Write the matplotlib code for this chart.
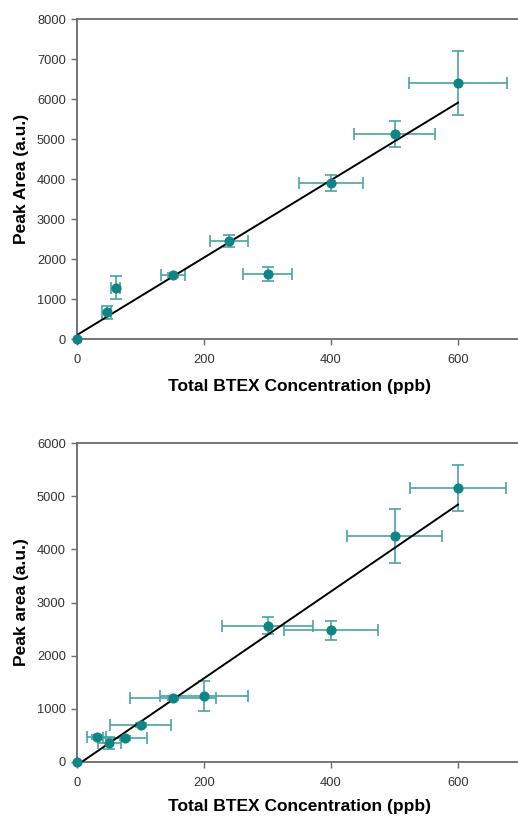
import matplotlib
matplotlib.use("Agg")
import matplotlib.pyplot as plt
import numpy as np

plt.rcParams['font.family'] = ['Liberation Sans', 'DejaVu Sans']

# Top panel data
top_x = [0, 47, 61, 151, 240, 300, 400, 500, 600]
top_y = [0, 667, 1285, 1605, 2450, 1620, 3900, 5130, 6400]
top_xerr = [0, 7, 7, 19, 30, 38, 50, 63, 77]
top_yerr = [0, 165, 290, 50, 160, 180, 210, 330, 800]
top_fit_slope = 9.68
top_fit_intercept = 100
top_ylabel = "Peak Area (a.u.)"
top_yticks = [0, 1000, 2000, 3000, 4000, 5000, 6000, 7000, 8000]

# Bottom panel data
bot_x = [0, 31, 51, 76, 100, 151, 200, 300, 400, 500, 600]
bot_y = [0, 465, 360, 450, 700, 1210, 1240, 2560, 2480, 4250, 5150]
bot_xerr = [0, 15, 18, 35, 48, 68, 70, 71, 74, 75, 75]
bot_yerr = [0, 40, 110, 40, 40, 40, 285, 160, 180, 500, 430]
bot_fit_slope = 8.17
bot_fit_intercept = -60
bot_ylabel = "Peak area (a.u.)"
bot_yticks = [0, 1000, 2000, 3000, 4000, 5000, 6000]

xticks = [0, 200, 400, 600]
xlabel = "Total BTEX Concentration (ppb)"
fit_range = [0, 600]

W, H = 518, 816
fig = plt.figure(figsize=(W / 100, H / 100), dpi=100)

marker_color = "#0f8585"
err_color = "#4aa3a3"
spine_color = "#6a6a6a"


def panel(rect, x, y, xerr, yerr, slope, intercept, ylabel, yticks, xlabelpad):
    ax = fig.add_axes(rect)
    ax.errorbar(x, y, xerr=xerr, yerr=yerr, fmt='none', ecolor=err_color,
                elinewidth=1.2, capsize=4, capthick=1.2, zorder=2)
    fx = np.array(fit_range, dtype=float)
    ax.plot(fx, slope * fx + intercept, color='black', lw=1.4, zorder=3)
    ax.plot(x, y, 'o', color=marker_color, ms=6.3, zorder=4, clip_on=False,
            mec=marker_color)
    ax.set_xlim(0, 700)
    ax.set_ylim(yticks[0], yticks[-1])
    ax.set_xticks(xticks)
    ax.set_yticks(yticks)
    for s in ['left', 'bottom', 'top']:
        ax.spines[s].set_color(spine_color)
        ax.spines[s].set_linewidth(1.3)
    ax.spines['right'].set_visible(False)
    ax.tick_params(axis='both', direction='out', length=4, width=1,
                   color=spine_color, labelsize=9.3, labelcolor='#333333', pad=4)
    ax.tick_params(axis='x', pad=7)
    ax.set_xlabel(xlabel, fontsize=12.5, fontweight='bold', labelpad=xlabelpad)
    ax.set_ylabel(ylabel, fontsize=12.5, fontweight='bold', labelpad=6)
    return ax


left = 77 / W
width = 444.5 / W
ax1 = panel([left, 1 - 339 / H, width, 320 / H], top_x, top_y, top_xerr, top_yerr,
            top_fit_slope, top_fit_intercept, top_ylabel, top_yticks, 9)
ax2 = panel([left, 1 - 762 / H, width, 319 / H], bot_x, bot_y, bot_xerr, bot_yerr,
            bot_fit_slope, bot_fit_intercept, bot_ylabel, bot_yticks, 7)

fig.savefig("out.png", dpi=100)
